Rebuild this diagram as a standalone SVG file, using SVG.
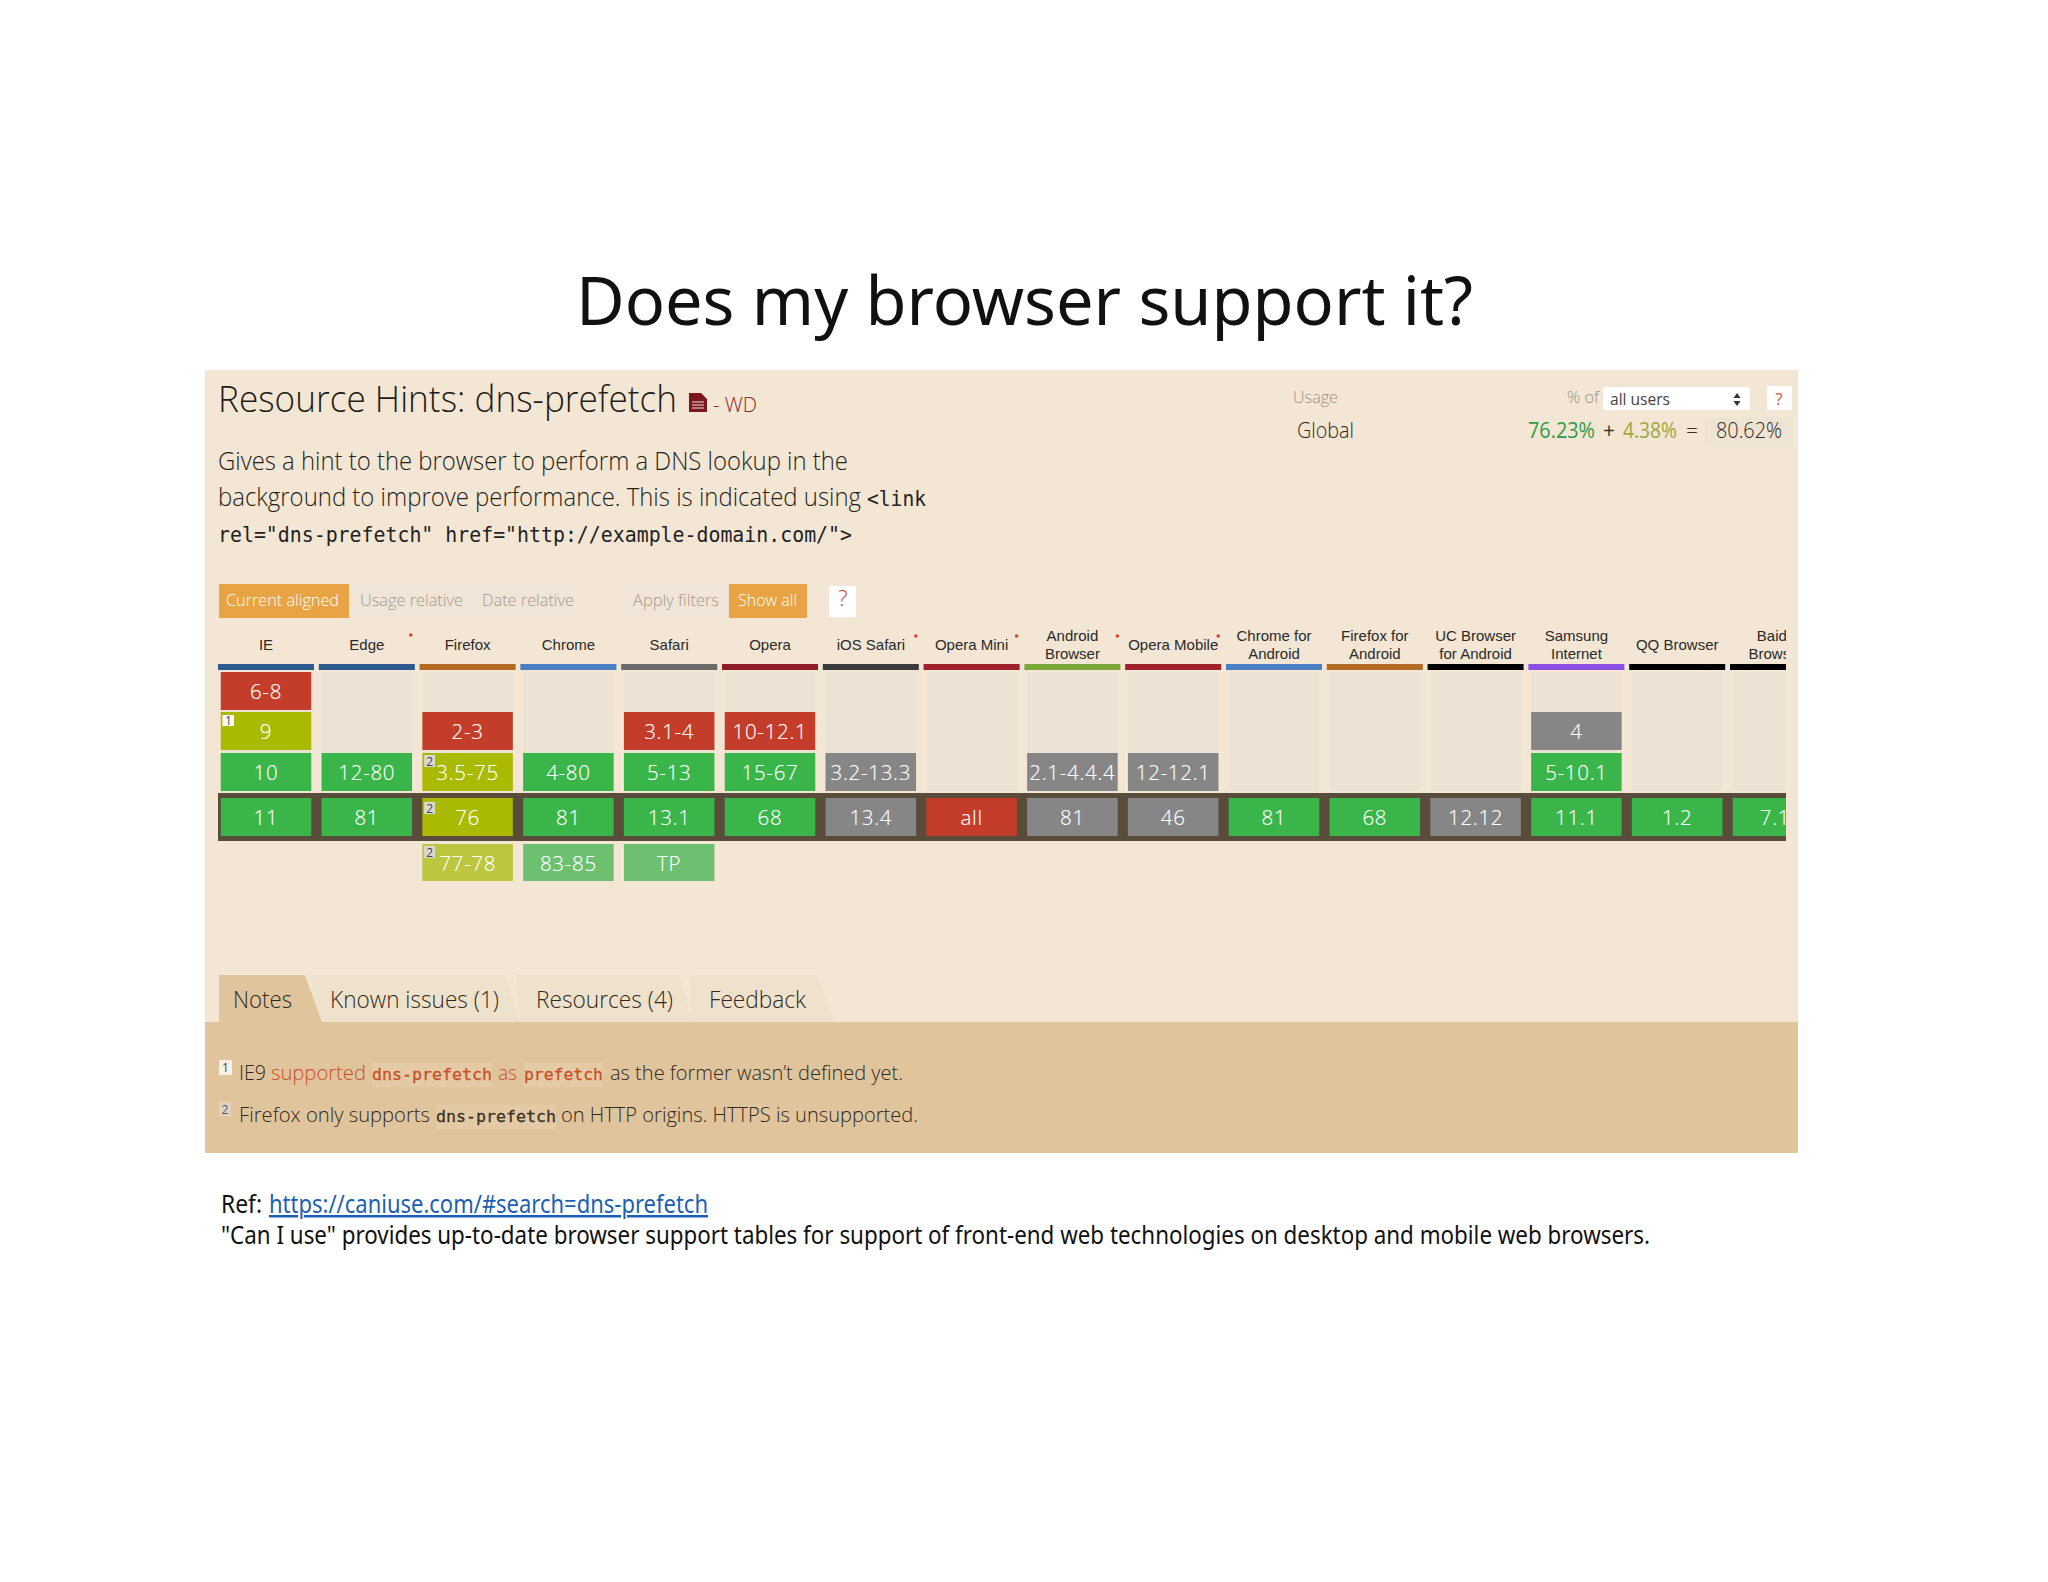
<svg xmlns="http://www.w3.org/2000/svg" width="2048" height="1582" viewBox="0 0 2048 1582">
<style>
text{font-family:"Open Sans","Noto Sans",sans-serif}
.sl{font-family:"Noto Sans","Open Sans",sans-serif;fill:#111}
.lt{font-weight:300}
.mono{font-family:"DejaVu Sans Mono","Liberation Mono",monospace}
.bg{fill:#ede3d4}
.bar{height:6px;width:96px;x:-48px;y:664px}
.c{width:90.5px;x:-45.25px}
.r{fill:#c43d2b}.g{fill:#39b54a}.o{fill:#a9ba00}.lo{fill:#bcc63f}.lg{fill:#6cc06f}.y{fill:#868686}
.v{fill:#fff;font-size:20.5px;font-weight:300;text-anchor:middle;letter-spacing:.7px;stroke:#fff;stroke-width:.15px}
.h{font-family:"Liberation Sans",Arial,sans-serif;font-size:15px;fill:#2a2a2a;text-anchor:middle}
.star{fill:#d9442f}
.bt{font-size:17px;font-weight:300}
.tab{font-size:23px;font-weight:300;fill:#2f2a22}
.n{font-size:20px;font-weight:300;fill:#2f2a22}
.nm{font-size:16.500px;fill:#3a332a;stroke:#3a332a;stroke-width:.3px}
.badge{font-size:12px;fill:#444;text-anchor:middle}
</style>
<defs><clipPath id="tc"><rect x="200" y="620" width="1586" height="280"/></clipPath></defs>
<rect width="2048" height="1582" fill="#fff"/>
<text id="title" class="sl" x="576" y="325" font-size="67" textLength="897" lengthAdjust="spacingAndGlyphs">Does my browser support it?</text>
<g id="panel">
<rect x="205" y="370" width="1593" height="783" fill="#f3e6d5"/>
<text class="lt" x="218" y="412" font-size="36" fill="#1f1b16" textLength="459" lengthAdjust="spacingAndGlyphs">Resource Hints: dns-prefetch</text>
<path d="M689 393h12l6 6v13h-18z" fill="#7d1420"/><path d="M692 402h12M692 405h12M692 408h12" stroke="#f3e6d5" stroke-width="1"/>
<text x="713" y="412" font-size="20" font-weight="300" fill="#8b2a2a" textLength="44" lengthAdjust="spacingAndGlyphs">- WD</text>
<text class="lt" x="218" y="470" font-size="26" fill="#241f19" textLength="630" lengthAdjust="spacingAndGlyphs">Gives a hint to the browser to perform a DNS lookup in the</text>
<text class="lt" x="218" y="506" font-size="26" fill="#241f19" textLength="643" lengthAdjust="spacingAndGlyphs">background to improve performance. This is indicated using</text>
<text class="mono" x="867" y="506" font-size="21" fill="#222" textLength="59" lengthAdjust="spacingAndGlyphs">&lt;link</text>
<text class="mono" x="218" y="542" font-size="21" fill="#222" textLength="634" lengthAdjust="spacingAndGlyphs">rel="dns-prefetch" href="http://example-domain.com/"&gt;</text>
</g>
<g id="usage">
<text x="1293" y="403" font-size="16" font-weight="300" fill="#9a9285" textLength="45" lengthAdjust="spacingAndGlyphs">Usage</text>
<text x="1297" y="438" font-size="22" font-weight="300" fill="#2f2a22" textLength="57" lengthAdjust="spacingAndGlyphs">Global</text>
<text x="1567" y="403" font-size="16" font-weight="300" fill="#9a9285" textLength="32" lengthAdjust="spacingAndGlyphs">% of</text>
<rect x="1603" y="387" width="147" height="23" rx="2" fill="#fff"/>
<text x="1610" y="405" font-size="16.500" fill="#444" textLength="60" lengthAdjust="spacingAndGlyphs">all users</text>
<path d="M1737 393l3.500 5h-7zM1737 406l3.500-5h-7z" fill="#333"/>
<rect x="1767" y="386" width="25" height="24" fill="#fff"/>
<text x="1779" y="405" font-size="17" fill="#d8564a" text-anchor="middle">?</text>
<rect x="1705" y="417" width="88" height="30" fill="#efe3d3"/>
<text x="1528" y="438" font-size="22" fill="#2f9c46" textLength="67" lengthAdjust="spacingAndGlyphs">76.23%</text>
<text x="1609" y="438" font-size="21" fill="#3a332a" text-anchor="middle">+</text>
<text x="1623" y="438" font-size="22" fill="#a0a63a" textLength="54" lengthAdjust="spacingAndGlyphs">4.38%</text>
<text x="1692" y="438" font-size="21" font-weight="300" fill="#3a332a" text-anchor="middle">=</text>
<text x="1716" y="438" font-size="22" font-weight="300" fill="#2f2a22" textLength="66" lengthAdjust="spacingAndGlyphs">80.62%</text>
</g>
<g id="filters">
<rect x="349" y="584" width="231" height="34" fill="#f0e5d6"/>
<rect x="626" y="584" width="103" height="34" fill="#f0e5d6"/>
<rect x="219" y="584" width="130" height="34" fill="#e8a444"/>
<rect x="729" y="584" width="78" height="34" fill="#e8a444"/>
<text class="bt" x="226" y="606" fill="#fff" textLength="113" lengthAdjust="spacingAndGlyphs">Current aligned</text>
<text class="bt" x="360" y="606" fill="#a39b8e" textLength="103" lengthAdjust="spacingAndGlyphs">Usage relative</text>
<text class="bt" x="482" y="606" fill="#a39b8e" textLength="92" lengthAdjust="spacingAndGlyphs">Date relative</text>
<text class="bt" x="633" y="606" fill="#a39b8e" textLength="86" lengthAdjust="spacingAndGlyphs">Apply filters</text>
<text class="bt" x="738" y="606" fill="#fff" textLength="59" lengthAdjust="spacingAndGlyphs">Show all</text>
<rect x="829" y="586" width="27" height="31" fill="#fff"/>
<text x="843" y="606" font-size="22" font-weight="300" fill="#c8402f" text-anchor="middle">?</text>
</g>
<g id="table" clip-path="url(#tc)">
<g id="empty-columns">
<rect class="bg" x="220.750" y="672" width="90.500" height="119"/><rect class="bg" x="321.550" y="672" width="90.500" height="119"/><rect class="bg" x="422.350" y="672" width="90.500" height="119"/><rect class="bg" x="523.150" y="672" width="90.500" height="119"/><rect class="bg" x="623.950" y="672" width="90.500" height="119"/><rect class="bg" x="724.750" y="672" width="90.500" height="119"/><rect class="bg" x="825.550" y="672" width="90.500" height="119"/><rect class="bg" x="926.350" y="672" width="90.500" height="119"/><rect class="bg" x="1027.150" y="672" width="90.500" height="119"/><rect class="bg" x="1127.950" y="672" width="90.500" height="119"/><rect class="bg" x="1228.750" y="672" width="90.500" height="119"/><rect class="bg" x="1329.550" y="672" width="90.500" height="119"/><rect class="bg" x="1430.350" y="672" width="90.500" height="119"/><rect class="bg" x="1531.150" y="672" width="90.500" height="119"/><rect class="bg" x="1631.950" y="672" width="90.500" height="119"/><rect class="bg" x="1732.750" y="672" width="90.500" height="119"/>
</g>
<rect id="current-band" x="218" y="793" width="1568" height="48" fill="#5a4c3a"/>
<g id="col-ie" transform="translate(266 0)"><rect class="bar" fill="#2f5a8f"/><text class="h" y="650">IE</text>
<rect class="c r" y="672" height="38"/><text class="v" y="699">6-8</text>
<rect class="c o" y="712" height="38"/><text class="v" y="739">9</text>
<rect x="-43.500" y="715" width="11.500" height="11" fill="#fff"/><text class="badge" x="-37.700" y="725">1</text>
<rect class="c g" y="753" height="38"/><text class="v" y="780">10</text>
<rect class="c g" y="798" height="38"/><text class="v" y="825">11</text></g>
<g id="col-edge" transform="translate(366.800 0)"><rect class="bar" fill="#2f5a8f"/><text class="h" y="650">Edge</text><circle class="star" cx="44" cy="635" r="1.800"/>
<rect class="c g" y="753" height="38"/><text class="v" y="780">12-80</text>
<rect class="c g" y="798" height="38"/><text class="v" y="825">81</text></g>
<g id="col-firefox" transform="translate(467.600 0)"><rect class="bar" fill="#b06a24"/><text class="h" y="650">Firefox</text>
<rect class="c r" y="712" height="38"/><text class="v" y="739">2-3</text>
<rect class="c o" y="753" height="38"/><text class="v" y="780">3.5-75</text>
<rect x="-43.500" y="755" width="11" height="12" fill="#d9d9d2"/><text class="badge" x="-38" y="765.500">2</text>
<rect class="c o" y="798" height="38"/><text class="v" y="825">76</text>
<rect x="-43.500" y="802" width="11" height="12" fill="#d9d9d2"/><text class="badge" x="-38" y="812.500">2</text>
<rect class="c lo" y="844" height="37"/><text class="v" y="871">77-78</text>
<rect x="-43.500" y="846" width="11" height="12" fill="#d9d9d2"/><text class="badge" x="-38" y="856.500">2</text></g>
<g id="col-chrome" transform="translate(568.400 0)"><rect class="bar" fill="#4a7fc1"/><text class="h" y="650">Chrome</text>
<rect class="c g" y="753" height="38"/><text class="v" y="780">4-80</text>
<rect class="c g" y="798" height="38"/><text class="v" y="825">81</text>
<rect class="c lg" y="844" height="37"/><text class="v" y="871">83-85</text></g>
<g id="col-safari" transform="translate(669.200 0)"><rect class="bar" fill="#6a6a6a"/><text class="h" y="650">Safari</text>
<rect class="c r" y="712" height="38"/><text class="v" y="739">3.1-4</text>
<rect class="c g" y="753" height="38"/><text class="v" y="780">5-13</text>
<rect class="c g" y="798" height="38"/><text class="v" y="825">13.1</text>
<rect class="c lg" y="844" height="37"/><text class="v" y="871">TP</text></g>
<g id="col-opera" transform="translate(770 0)"><rect class="bar" fill="#8f1c2a"/><text class="h" y="650">Opera</text>
<rect class="c r" y="712" height="38"/><text class="v" y="739">10-12.1</text>
<rect class="c g" y="753" height="38"/><text class="v" y="780">15-67</text>
<rect class="c g" y="798" height="38"/><text class="v" y="825">68</text></g>
<g id="col-ios" transform="translate(870.800 0)"><rect class="bar" fill="#3a3a3a"/><text class="h" y="650">iOS Safari</text><circle class="star" cx="45" cy="636" r="1.800"/>
<rect class="c y" y="753" height="38"/><text class="v" y="780">3.2-13.3</text>
<rect class="c y" y="798" height="38"/><text class="v" y="825">13.4</text></g>
<g id="col-opera-mini" transform="translate(971.600 0)"><rect class="bar" fill="#a01f2c"/><text class="h" y="650">Opera Mini</text><circle class="star" cx="45" cy="636" r="1.800"/>
<rect class="c r" y="798" height="38"/><text class="v" y="825">all</text></g>
<g id="col-android" transform="translate(1072.400 0)"><rect class="bar" fill="#7ba63a"/><text class="h" y="641">Android</text><text class="h" y="659">Browser</text><circle class="star" cx="45" cy="636" r="1.800"/>
<rect class="c y" y="753" height="38"/><text class="v" y="780">2.1-4.4.4</text>
<rect class="c y" y="798" height="38"/><text class="v" y="825">81</text></g>
<g id="col-opera-mobile" transform="translate(1173.200 0)"><rect class="bar" fill="#a01f2c"/><text class="h" y="650">Opera Mobile</text><circle class="star" cx="45" cy="636" r="1.800"/>
<rect class="c y" y="753" height="38"/><text class="v" y="780">12-12.1</text>
<rect class="c y" y="798" height="38"/><text class="v" y="825">46</text></g>
<g id="col-chrome-android" transform="translate(1274 0)"><rect class="bar" fill="#4a7fc1"/><text class="h" y="641">Chrome for</text><text class="h" y="659">Android</text>
<rect class="c g" y="798" height="38"/><text class="v" y="825">81</text></g>
<g id="col-firefox-android" transform="translate(1374.800 0)"><rect class="bar" fill="#b06a24"/><text class="h" y="641">Firefox for</text><text class="h" y="659">Android</text>
<rect class="c g" y="798" height="38"/><text class="v" y="825">68</text></g>
<g id="col-uc" transform="translate(1475.600 0)"><rect class="bar" fill="#000"/><text class="h" y="641">UC Browser</text><text class="h" y="659">for Android</text>
<rect class="c y" y="798" height="38"/><text class="v" y="825">12.12</text></g>
<g id="col-samsung" transform="translate(1576.400 0)"><rect class="bar" fill="#8a4fe0"/><text class="h" y="641">Samsung</text><text class="h" y="659">Internet</text>
<rect class="c y" y="712" height="38"/><text class="v" y="739">4</text>
<rect class="c g" y="753" height="38"/><text class="v" y="780">5-10.1</text>
<rect class="c g" y="798" height="38"/><text class="v" y="825">11.1</text></g>
<g id="col-qq" transform="translate(1677.200 0)"><rect class="bar" fill="#000"/><text class="h" y="650">QQ Browser</text>
<rect class="c g" y="798" height="38"/><text class="v" y="825">1.2</text></g>
<g id="col-baidu" transform="translate(1778 0)"><rect class="bar" fill="#000"/><text class="h" x="-2" y="641">Baidu</text><text class="h" x="-2" y="659">Browser</text>
<rect class="c g" y="798" height="38"/><text class="v" x="-3" y="825">7.1</text></g>
</g>
<g id="tabs">
<path d="M315 1022L311 975H505L520 1022z" fill="#efe2cc"/>
<path d="M520 1022L516 975H680L692 1022z" fill="#efe2cc"/>
<path d="M692 1022L690 975H817L835 1022z" fill="#efe2cc"/>
<path d="M219 1022V975H305L322 1022z" fill="#e0c49c"/>
<text class="tab" x="233" y="1008" textLength="59" lengthAdjust="spacingAndGlyphs">Notes</text>
<text class="tab" x="330" y="1008" textLength="169" lengthAdjust="spacingAndGlyphs">Known issues (1)</text>
<text class="tab" x="536" y="1008" textLength="137" lengthAdjust="spacingAndGlyphs">Resources (4)</text>
<text class="tab" x="709" y="1008" textLength="97" lengthAdjust="spacingAndGlyphs">Feedback</text>
</g>
<g id="notes">
<rect x="205" y="1022" width="1593" height="131" fill="#e0c49c"/>
<rect x="219" y="1060" width="13" height="15" fill="#f6f0e6"/><text class="badge" x="225.500" y="1072">1</text>
<text class="n" x="239" y="1080" textLength="27" lengthAdjust="spacingAndGlyphs">IE9</text>
<text class="n" x="271" y="1080" style="fill:#c8502a" textLength="95" lengthAdjust="spacingAndGlyphs">supported</text>
<rect x="372" y="1063" width="120" height="24" fill="#e5cba5"/>
<text class="nm mono" x="372" y="1080" style="fill:#c8502a;stroke:#c8502a" textLength="120" lengthAdjust="spacingAndGlyphs">dns-prefetch</text>
<text class="n" x="498" y="1080" style="fill:#c8502a" textLength="19" lengthAdjust="spacingAndGlyphs">as</text>
<rect x="524" y="1063" width="79" height="24" fill="#e5cba5"/>
<text class="nm mono" x="524" y="1080" style="fill:#c8502a;stroke:#c8502a" textLength="79" lengthAdjust="spacingAndGlyphs">prefetch</text>
<text class="n" x="610" y="1080" textLength="293" lengthAdjust="spacingAndGlyphs">as the former wasn’t defined yet.</text>
<rect x="219" y="1102" width="12" height="14" fill="#dfd3c0"/><text class="badge" x="225" y="1114" style="fill:#4a5a80">2</text>
<text class="n" x="239" y="1122" textLength="191" lengthAdjust="spacingAndGlyphs">Firefox only supports</text>
<rect x="436" y="1105" width="120" height="24" fill="#e5cba5"/>
<text class="nm mono" x="436" y="1122" textLength="120" lengthAdjust="spacingAndGlyphs">dns-prefetch</text>
<text class="n" x="561" y="1122" textLength="357" lengthAdjust="spacingAndGlyphs">on HTTP origins. HTTPS is unsupported.</text>
</g>
<g id="footer">
<text class="sl" x="221" y="1213" font-size="25" textLength="41" lengthAdjust="spacingAndGlyphs">Ref:</text>
<text class="sl" x="269" y="1213" font-size="25" style="fill:#1a5fb4" text-decoration="underline" textLength="439" lengthAdjust="spacingAndGlyphs">https://caniuse.com/#search=dns-prefetch</text>
<text class="sl" x="221" y="1244" font-size="25" textLength="1429" lengthAdjust="spacingAndGlyphs">"Can I use" provides up-to-date browser support tables for support of front-end web technologies on desktop and mobile web browsers.</text>
</g>
</svg>
